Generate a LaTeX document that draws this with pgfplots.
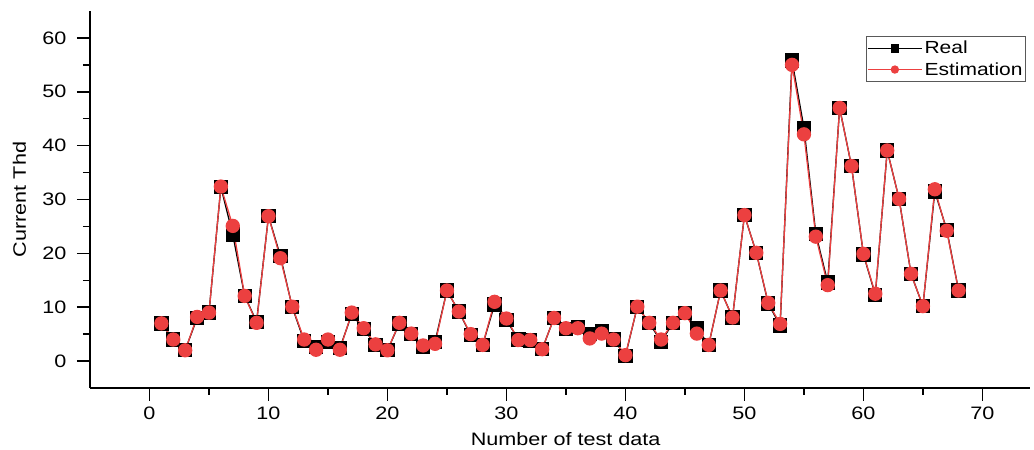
\documentclass[border=0pt]{standalone}
\usepackage{pgfplots}
\pgfplotsset{compat=1.18}
\usepackage{pgfplotstable}
\usepackage{fontspec}
\setmainfont{Liberation Sans}[FakeStretch=1.2]
\definecolor{estred}{RGB}{236,64,64}

\pgfplotstableread{
x y
1 7
2 4
3 2
4 8
5 9
6 32.3
7 23.5
8 12.1
9 7.3
10 26.9
11 19.5
12 10
13 3.7
14 2.6
15 3.6
16 2.4
17 8.7
18 6
19 3
20 2
21 7
22 5
23 2.6
24 3.6
25 13.1
26 9.2
27 4.8
28 3
29 10.5
30 7.6
31 4
32 3.8
33 2.2
34 8
35 6
36 6.3
37 5
38 5.5
39 4
40 1
41 10.1
42 7.1
43 3.6
44 7.1
45 8.9
46 6.1
47 3
48 13.1
49 8.1
50 27.1
51 20.1
52 10.7
53 6.6
54 55.8
55 43.3
56 23.6
57 14.6
58 47
59 36.2
60 19.8
61 12.3
62 39.1
63 30.1
64 16.2
65 10.2
66 31.5
67 24.4
68 13.1
}\realdata

\pgfplotstableread{
x y
1 7
2 4
3 2
4 8.2
5 9
6 32.4
7 25.1
8 12.1
9 7.1
10 26.9
11 19.1
12 10.1
13 4
14 2.1
15 4
16 2.1
17 9
18 6.1
19 3.1
20 2
21 7.1
22 5.1
23 2.9
24 3.2
25 13.1
26 9.2
27 5
28 3
29 11
30 7.9
31 3.9
32 3.9
33 2.2
34 8
35 6.1
36 6.1
37 4.2
38 5.1
39 4
40 1.1
41 10.1
42 7.1
43 4
44 7.1
45 8.9
46 5.1
47 3
48 13.1
49 8.1
50 27.1
51 20.1
52 10.8
53 6.9
54 55
55 42.1
56 23.1
57 14.1
58 47
59 36.2
60 19.9
61 12.5
62 39.1
63 30.1
64 16.2
65 10.2
66 31.9
67 24.2
68 13.1
}\estdata

\begin{document}
\begin{tikzpicture}
  \begin{axis}[
      scale only axis,
      width=940pt, height=377pt,
      xmin=-5, xmax=74, ymin=-5, ymax=65,
      axis lines=left,
      axis line style={-, line width=1.8pt},
      xtick={0,10,...,70}, ytick={0,10,...,60},
      minor x tick num=1, minor y tick num=1,
      tick align=outside,
      major tick length=13pt, minor tick length=7pt,
      tick style={line width=1.5pt, black},
      ticklabel style={font=\fontsize{18}{20}\selectfont},
      yticklabel style={xshift=-7pt},
      xticklabel style={yshift=-2pt},
      /pgf/number format/assume math mode=true,
      xlabel={Number of test data},
      ylabel={Current Thd},
      label style={font=\fontsize{18}{20}\selectfont},
      xlabel style={at={(axis description cs:0.506,-0.135)}, anchor=center},
      ylabel style={at={(axis description cs:-0.075,0.5)}, anchor=center},
      legend style={at={(0.9957,0.934)}, anchor=north east,
        draw=gray!70!black, line width=0.8pt,
        font=\fontsize{17.5}{20}\selectfont,
        row sep=3pt, inner xsep=1pt, inner ysep=3pt},
      legend cell align=left,
      legend image code/.code={%
        \draw[mark repeat=2, mark phase=2, #1, mark size=3.5pt]
          plot coordinates {(0pt,0pt) (27pt,0pt) (54pt,0pt)};},
    ]
    \addplot[black, line width=1.3pt, mark=square*, mark size=6.5pt,
      mark options={solid, fill=black}] table[x=x, y=y] {\realdata};
    \addlegendentry{Real}
    \addplot[estred, line width=1.3pt, mark=*, mark size=6.5pt,
      mark options={solid, fill=estred, draw=estred}] table[x=x, y=y] {\estdata};
    \addlegendentry{Estimation}
  \end{axis}
  \pgfresetboundingbox
  \path ([shift={(-90pt,-62pt)}]current axis.south west)
    rectangle ([shift={(4pt,11pt)}]current axis.north east);
\end{tikzpicture}
\end{document}
